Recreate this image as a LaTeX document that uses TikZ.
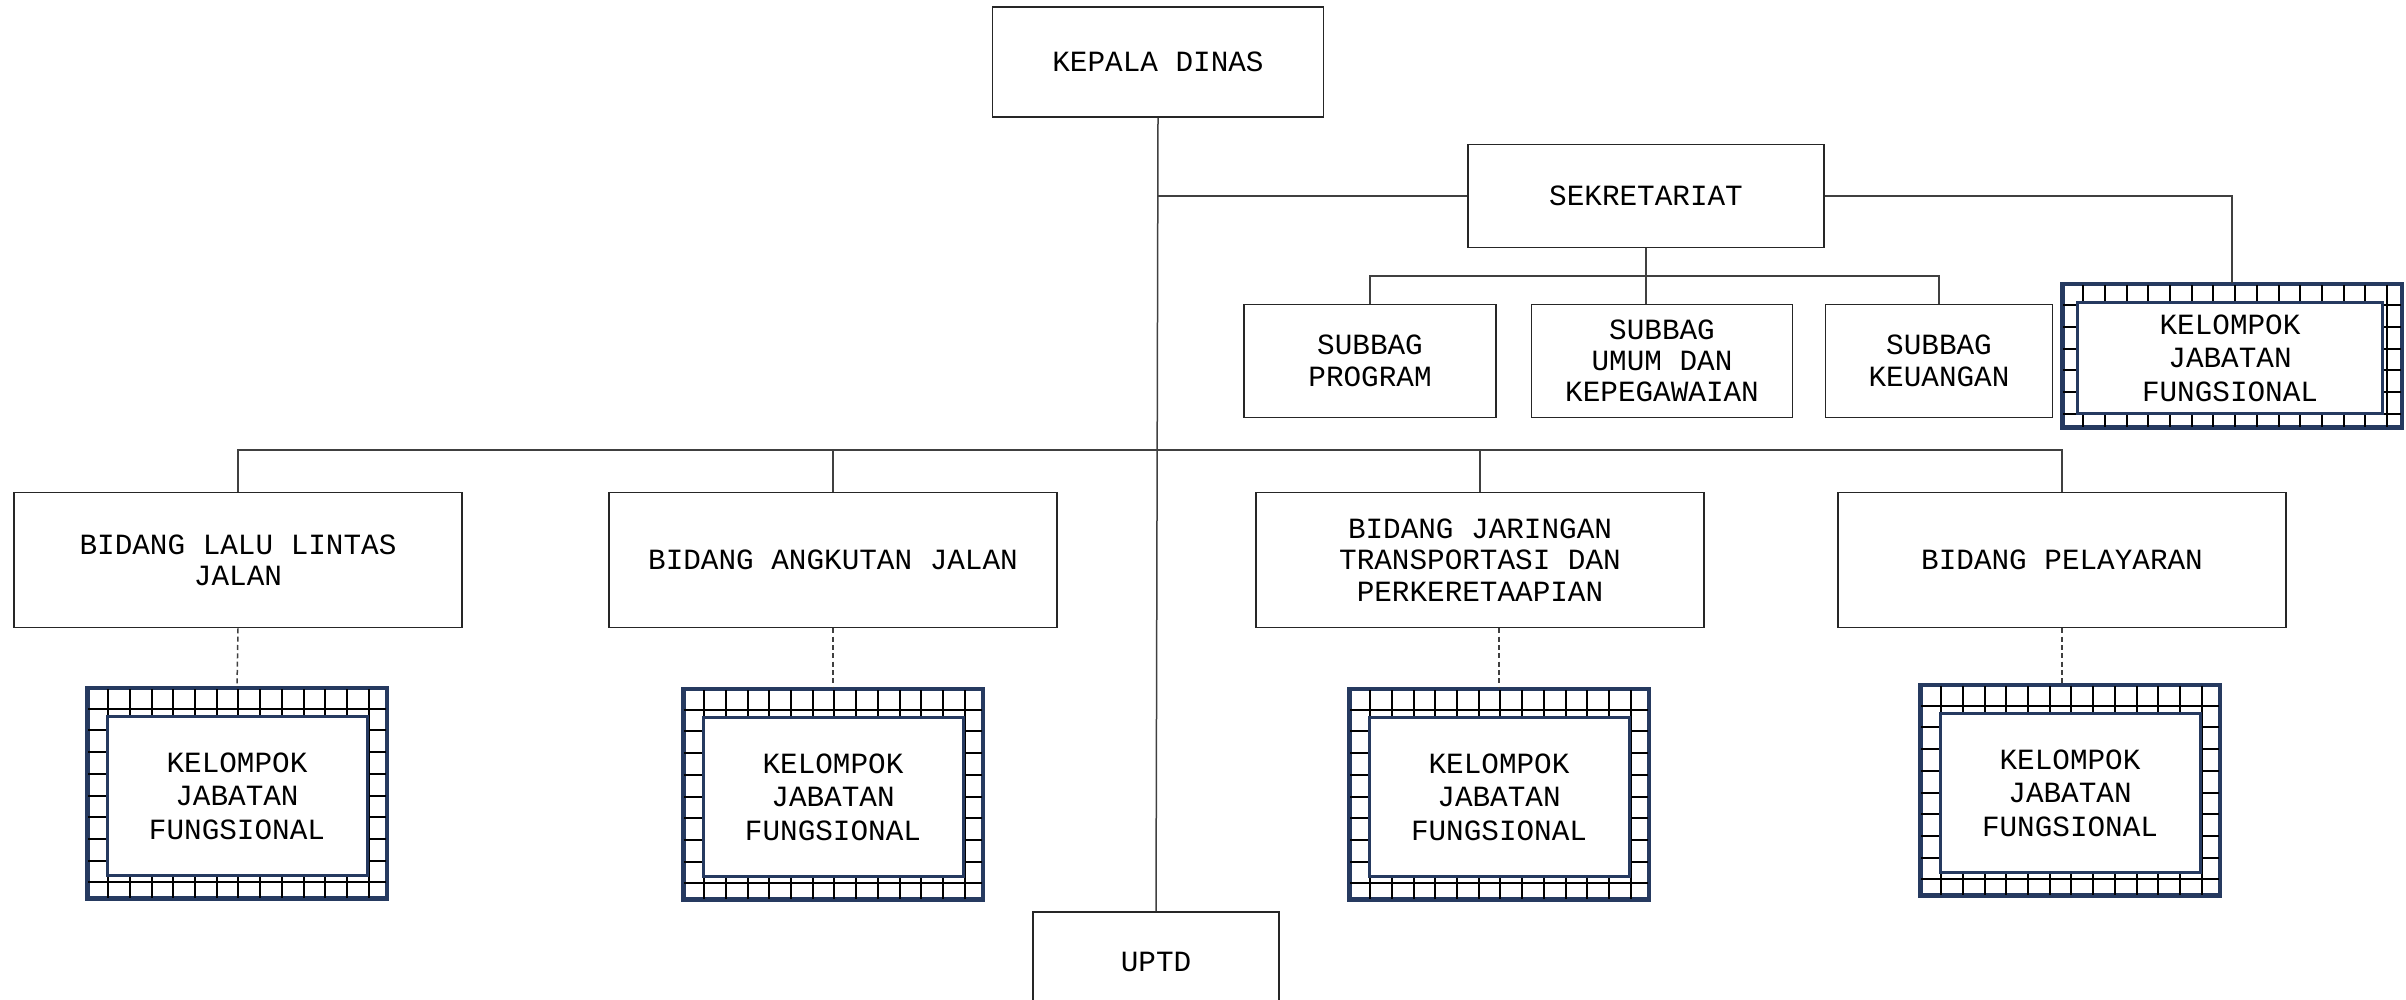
\documentclass[tikz,border=0pt]{standalone}
\usepackage{fontspec}
\setmainfont{Liberation Mono}
\usetikzlibrary{positioning}

\definecolor{kjfnavy}{RGB}{38,58,96}

\tikzset{
  unitbox/.style={draw=black!85, line width=0.5pt, fill=white, align=center, inner sep=0pt,
    font=\fontsize{8.8}{9.4}\selectfont},
  kjfouter/.style={draw=kjfnavy, line width=0.9pt, fill=white, inner sep=0pt},
  kjfinner/.style={draw=kjfnavy, line width=0.9pt, fill=white, align=center, inner sep=0pt,
    font=\fontsize{8.8}{10}\selectfont},
  gridline/.style={draw=black, line width=0.6pt},
  link/.style={draw=black!75, line width=0.45pt},
  dotlink/.style={link, dash pattern=on 1.5pt off 1pt},
}

\begin{document}
\begin{tikzpicture}[x=0.3pt,y=0.3pt,yscale=-1,xscale=1]
        \useasboundingbox (0,0) rectangle (2406,1000);

        % Kepala dan sekretariat
        \node[unitbox, minimum width=99.3pt, minimum height=33pt] (kd) at (1158,62) {KEPALA DINAS};
        \node[unitbox, minimum width=106.8pt, minimum height=30.9pt] (sek) at (1646,196) {SEKRETARIAT};
        \node[unitbox, minimum width=75.6pt, minimum height=33.9pt] (sprog) at (1370,361) {SUBBAG\\PROGRAM};
        \node[unitbox, minimum width=78.3pt, minimum height=33.9pt] (sumum) at (1662,361) {SUBBAG\\UMUM DAN\\KEPEGAWAIAN};
        \node[unitbox, minimum width=68.1pt, minimum height=33.9pt] (skeu) at (1939,361) {SUBBAG\\KEUANGAN};

        % Bidang
        \node[unitbox, minimum width=134.4pt, minimum height=40.5pt] (bll) at (238,560) {BIDANG LALU LINTAS\\JALAN};
        \node[unitbox, minimum width=134.4pt, minimum height=40.5pt] (baj) at (833,560) {BIDANG ANGKUTAN JALAN};
        \node[unitbox, minimum width=134.4pt, minimum height=40.5pt] (bjt) at (1480,560) {BIDANG JARINGAN\\TRANSPORTASI DAN\\PERKERETAAPIAN};
        \node[unitbox, minimum width=134.4pt, minimum height=40.5pt] (bpel) at (2062,560) {BIDANG PELAYARAN};

        % Kelompok jabatan fungsional (bingkai luar)
        \node[kjfouter, minimum width=101.4pt, minimum height=42.6pt] (kjf0) at (2232,356) {};
        \node[kjfouter, minimum width=89.4pt, minimum height=62.7pt] (kjf1) at (237,793) {};
        \node[kjfouter, minimum width=89.4pt, minimum height=62.7pt] (kjf2) at (833,794) {};
        \node[kjfouter, minimum width=89.4pt, minimum height=62.7pt] (kjf3) at (1499,794) {};
        \node[kjfouter, minimum width=89.4pt, minimum height=62.7pt] (kjf4) at (2070,790) {};

        % kotak-kotak pada bingkai
        \foreach \k in {kjf0,kjf1,kjf2,kjf3,kjf4} {
            \begin{scope}
                \clip (\k.north west) rectangle (\k.south east);
                \begin{scope}[shift={(\k.north west)}]
                    \foreach \i in {1,...,16} \draw[gridline] (\i*21.7,0) -- (\i*21.7,230);
                    \foreach \j in {1,...,10} \draw[gridline] (0,\j*21.7) -- (350,\j*21.7);
                \end{scope}
            \end{scope}
            \draw[kjfnavy, line width=0.9pt] (\k.north west) rectangle (\k.south east);
        }

        % Kelompok jabatan fungsional (kotak dalam)
        \node[kjfinner, minimum width=91.5pt, minimum height=33.3pt] (kjf0i) at (2230,358) {KELOMPOK\\JABATAN\\FUNGSIONAL};
        \node[kjfinner, minimum width=78pt, minimum height=47.7pt] (kjf1i) at (237,796) {KELOMPOK\\JABATAN\\FUNGSIONAL};
        \node[kjfinner, minimum width=78pt, minimum height=47.7pt] (kjf2i) at (833,797) {KELOMPOK\\JABATAN\\FUNGSIONAL};
        \node[kjfinner, minimum width=78pt, minimum height=47.7pt] (kjf3i) at (1499,797) {KELOMPOK\\JABATAN\\FUNGSIONAL};
        \node[kjfinner, minimum width=78pt, minimum height=47.7pt] (kjf4i) at (2070,793) {KELOMPOK\\JABATAN\\FUNGSIONAL};

        % UPTD
        \node[unitbox, minimum width=73.8pt, minimum height=30pt] (uptd) at (1156,962) {UPTD};

        % Garis komando
        \coordinate (sbus) at (1646,276);
        \coordinate (bus) at (1158,450);
        \draw[link] (kd.south) -- (uptd.north);
        \draw[link] (kd.south |- sek.west) -- (sek.west);
        \draw[link] (sek.east) -| (kjf0.north);
        \draw[link] (sek.south) -- (sek.south |- sumum.north);
        \draw[link] (sprog.north) |- (sbus) -| (skeu.north);
        \draw[link] (bll.north) |- (bus) -| (bpel.north);
        \draw[link] (baj.north) -- (baj.north |- bus);
        \draw[link] (bjt.north) -- (bjt.north |- bus);

        % Garis koordinasi
        \draw[dotlink] (bll.south) -- (kjf1.north);
        \draw[dotlink] (baj.south) -- (kjf2.north);
        \draw[dotlink] (kjf3.north |- bjt.south) -- (kjf3.north);
        \draw[dotlink] (bpel.south) -- (kjf4.north -| bpel.south);
\end{tikzpicture}
\end{document}
